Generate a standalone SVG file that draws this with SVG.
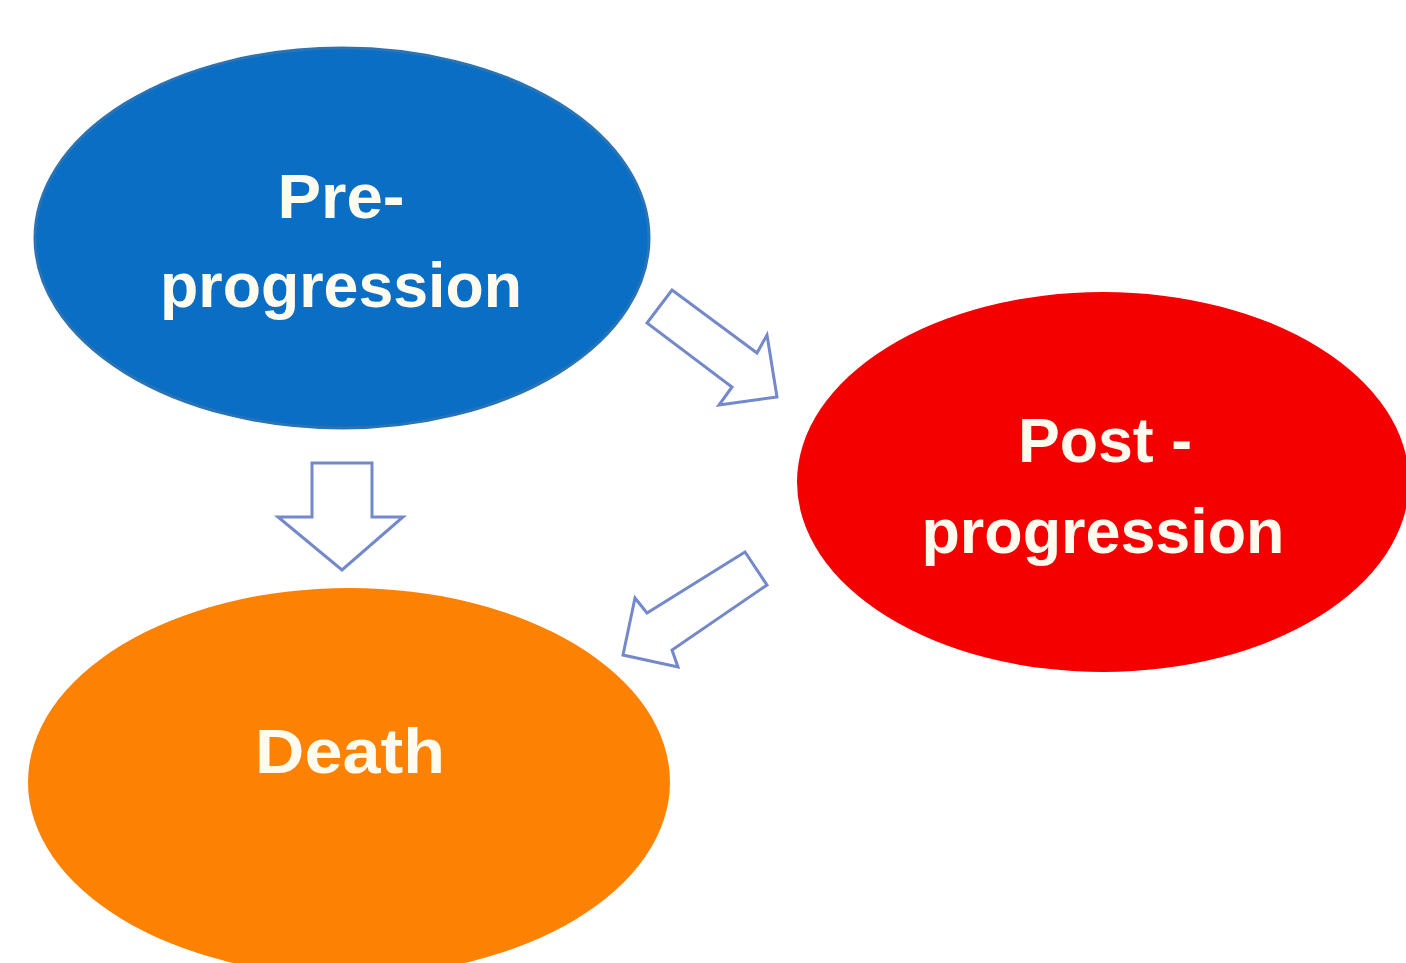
<svg xmlns="http://www.w3.org/2000/svg" width="1406" height="963" viewBox="0 0 1406 963">
<style>
.lbl{font-family:"Liberation Sans",Arial,sans-serif;font-weight:bold;font-size:63px;fill:#FFFBEF;text-anchor:middle}
.arr{fill:#FFFFFF;stroke:#7488CC;stroke-width:3;stroke-linejoin:miter}
</style>
<rect width="1406" height="963" fill="#FFFFFF"/>
<g id="node-pre">
<ellipse cx="342" cy="238" rx="307" ry="190" fill="#0A6FC4" stroke="#2A73B5" stroke-width="3"/>
<text class="lbl" x="341" y="218" textLength="127" lengthAdjust="spacingAndGlyphs">Pre-</text>
<text class="lbl" x="341" y="307" textLength="362" lengthAdjust="spacingAndGlyphs">progression</text>
</g>
<g id="node-post">
<ellipse cx="1103" cy="482" rx="306" ry="190" fill="#F50000"/>
<text class="lbl" x="1105" y="462" textLength="174" lengthAdjust="spacingAndGlyphs">Post -</text>
<text class="lbl" x="1103" y="553" textLength="363" lengthAdjust="spacingAndGlyphs">progression</text>
</g>
<g id="node-death">
<ellipse cx="349" cy="782" rx="321" ry="194" fill="#FD8204"/>
<text class="lbl" x="350" y="773" textLength="190" lengthAdjust="spacingAndGlyphs">Death</text>
</g>
<g id="connectors">
<polygon class="arr" points="312,463 372,463 372,517 403,517 342,570 278,517 312,517"/>
<polygon class="arr" points="672,290 757,353 767,335 777,397 719,405 732,387 647,323"/>
<polygon class="arr" points="745,552 767,585 672,650 678,667 623,655 635,598 647,613"/>
</g>
</svg>
